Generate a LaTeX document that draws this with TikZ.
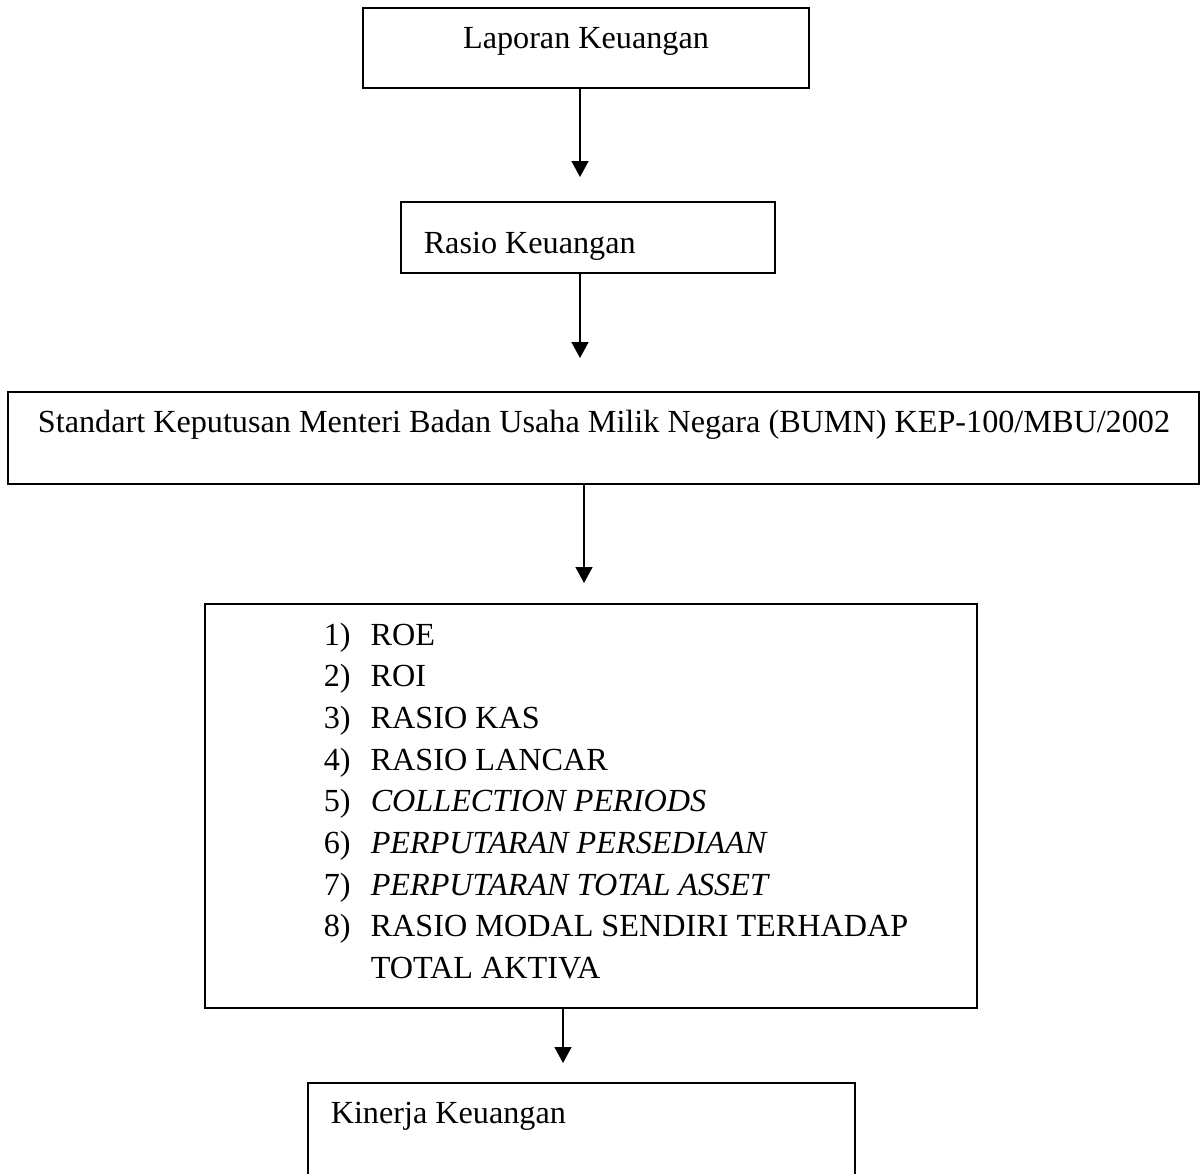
\documentclass[tikz,border=0pt]{standalone}
\usepackage{fontspec}
\setmainfont{Liberation Serif}
\usetikzlibrary{arrows.meta}
\begin{document}
\begin{tikzpicture}[x=0.5pt, y=-0.5pt, line width=0.75pt,
  every node/.style={font=\fontsize{16.1pt}{20.85pt}\selectfont, inner sep=0pt},
  box/.style={draw, rectangle},
  txt/.style={anchor=base},
  lst/.style={anchor=base west},
  arr/.style={-{Triangle[width=8.5pt, length=8pt]}}]
  \useasboundingbox (0,0) rectangle (1202,1173);
  \clip (0,0) rectangle (1202,1173);
  % boxes
  \node[box, minimum width=223pt, minimum height=40pt] (lap) at (586,48) {};
  \node[box, minimum width=187pt, minimum height=35.5pt] (ras) at (588,237.5) {};
  \node[box, minimum width=595.5pt, minimum height=46pt] (std) at (603.5,438) {};
  \node[box, minimum width=386pt, minimum height=202pt] (ind) at (591,806) {};
  \node[box, minimum width=273.5pt, minimum height=58.5pt] (kin) at (581.5,1141.5) {};
  % texts
  \node[txt] (laptxt) at (586,48) {Laporan Keuangan};
  \node[lst] (rastxt) at (423,253) {Rasio Keuangan};
  \node[txt] (stdtxt) at (604,432) {Standart Keputusan Menteri Badan Usaha Milik Negara (BUMN) KEP-100/MBU/2002};
  \node[lst] (kintxt) at (330,1123) {Kinerja Keuangan};
  % list of ratios
  \node[lst] (i1) at (323,645) {\makebox[23.5pt][l]{1)}ROE};
  \node[lst] (i2) at (323,686.7) {\makebox[23.5pt][l]{2)}ROI};
  \node[lst] (i3) at (323,728.4) {\makebox[23.5pt][l]{3)}RASIO KAS};
  \node[lst] (i4) at (323,770.1) {\makebox[23.5pt][l]{4)}RASIO LANCAR};
  \node[lst] (i5) at (323,811.8) {\makebox[23.5pt][l]{5)}\textit{COLLECTION PERIODS}};
  \node[lst] (i6) at (323,853.5) {\makebox[23.5pt][l]{6)}\textit{PERPUTARAN PERSEDIAAN}};
  \node[lst] (i7) at (323,895.2) {\makebox[23.5pt][l]{7)}\textit{PERPUTARAN TOTAL ASSET}};
  \node[lst] (i8) at (323,936.9) {\makebox[23.5pt][l]{8)}RASIO MODAL SENDIRI TERHADAP};
  \node[lst] (i8b) at (370,978.6) {TOTAL AKTIVA};
  % arrows
  \coordinate (t1) at (580,177);
  \coordinate (t2) at (580,358);
  \coordinate (t3) at (584,583);
  \coordinate (t4) at (563,1063);
  \draw[arr] (lap.south -| t1) -- (t1);
  \draw[arr] (ras.south -| t2) -- (t2);
  \draw[arr] (std.south -| t3) -- (t3);
  \draw[arr] (ind.south -| t4) -- (t4);
\end{tikzpicture}
\end{document}
